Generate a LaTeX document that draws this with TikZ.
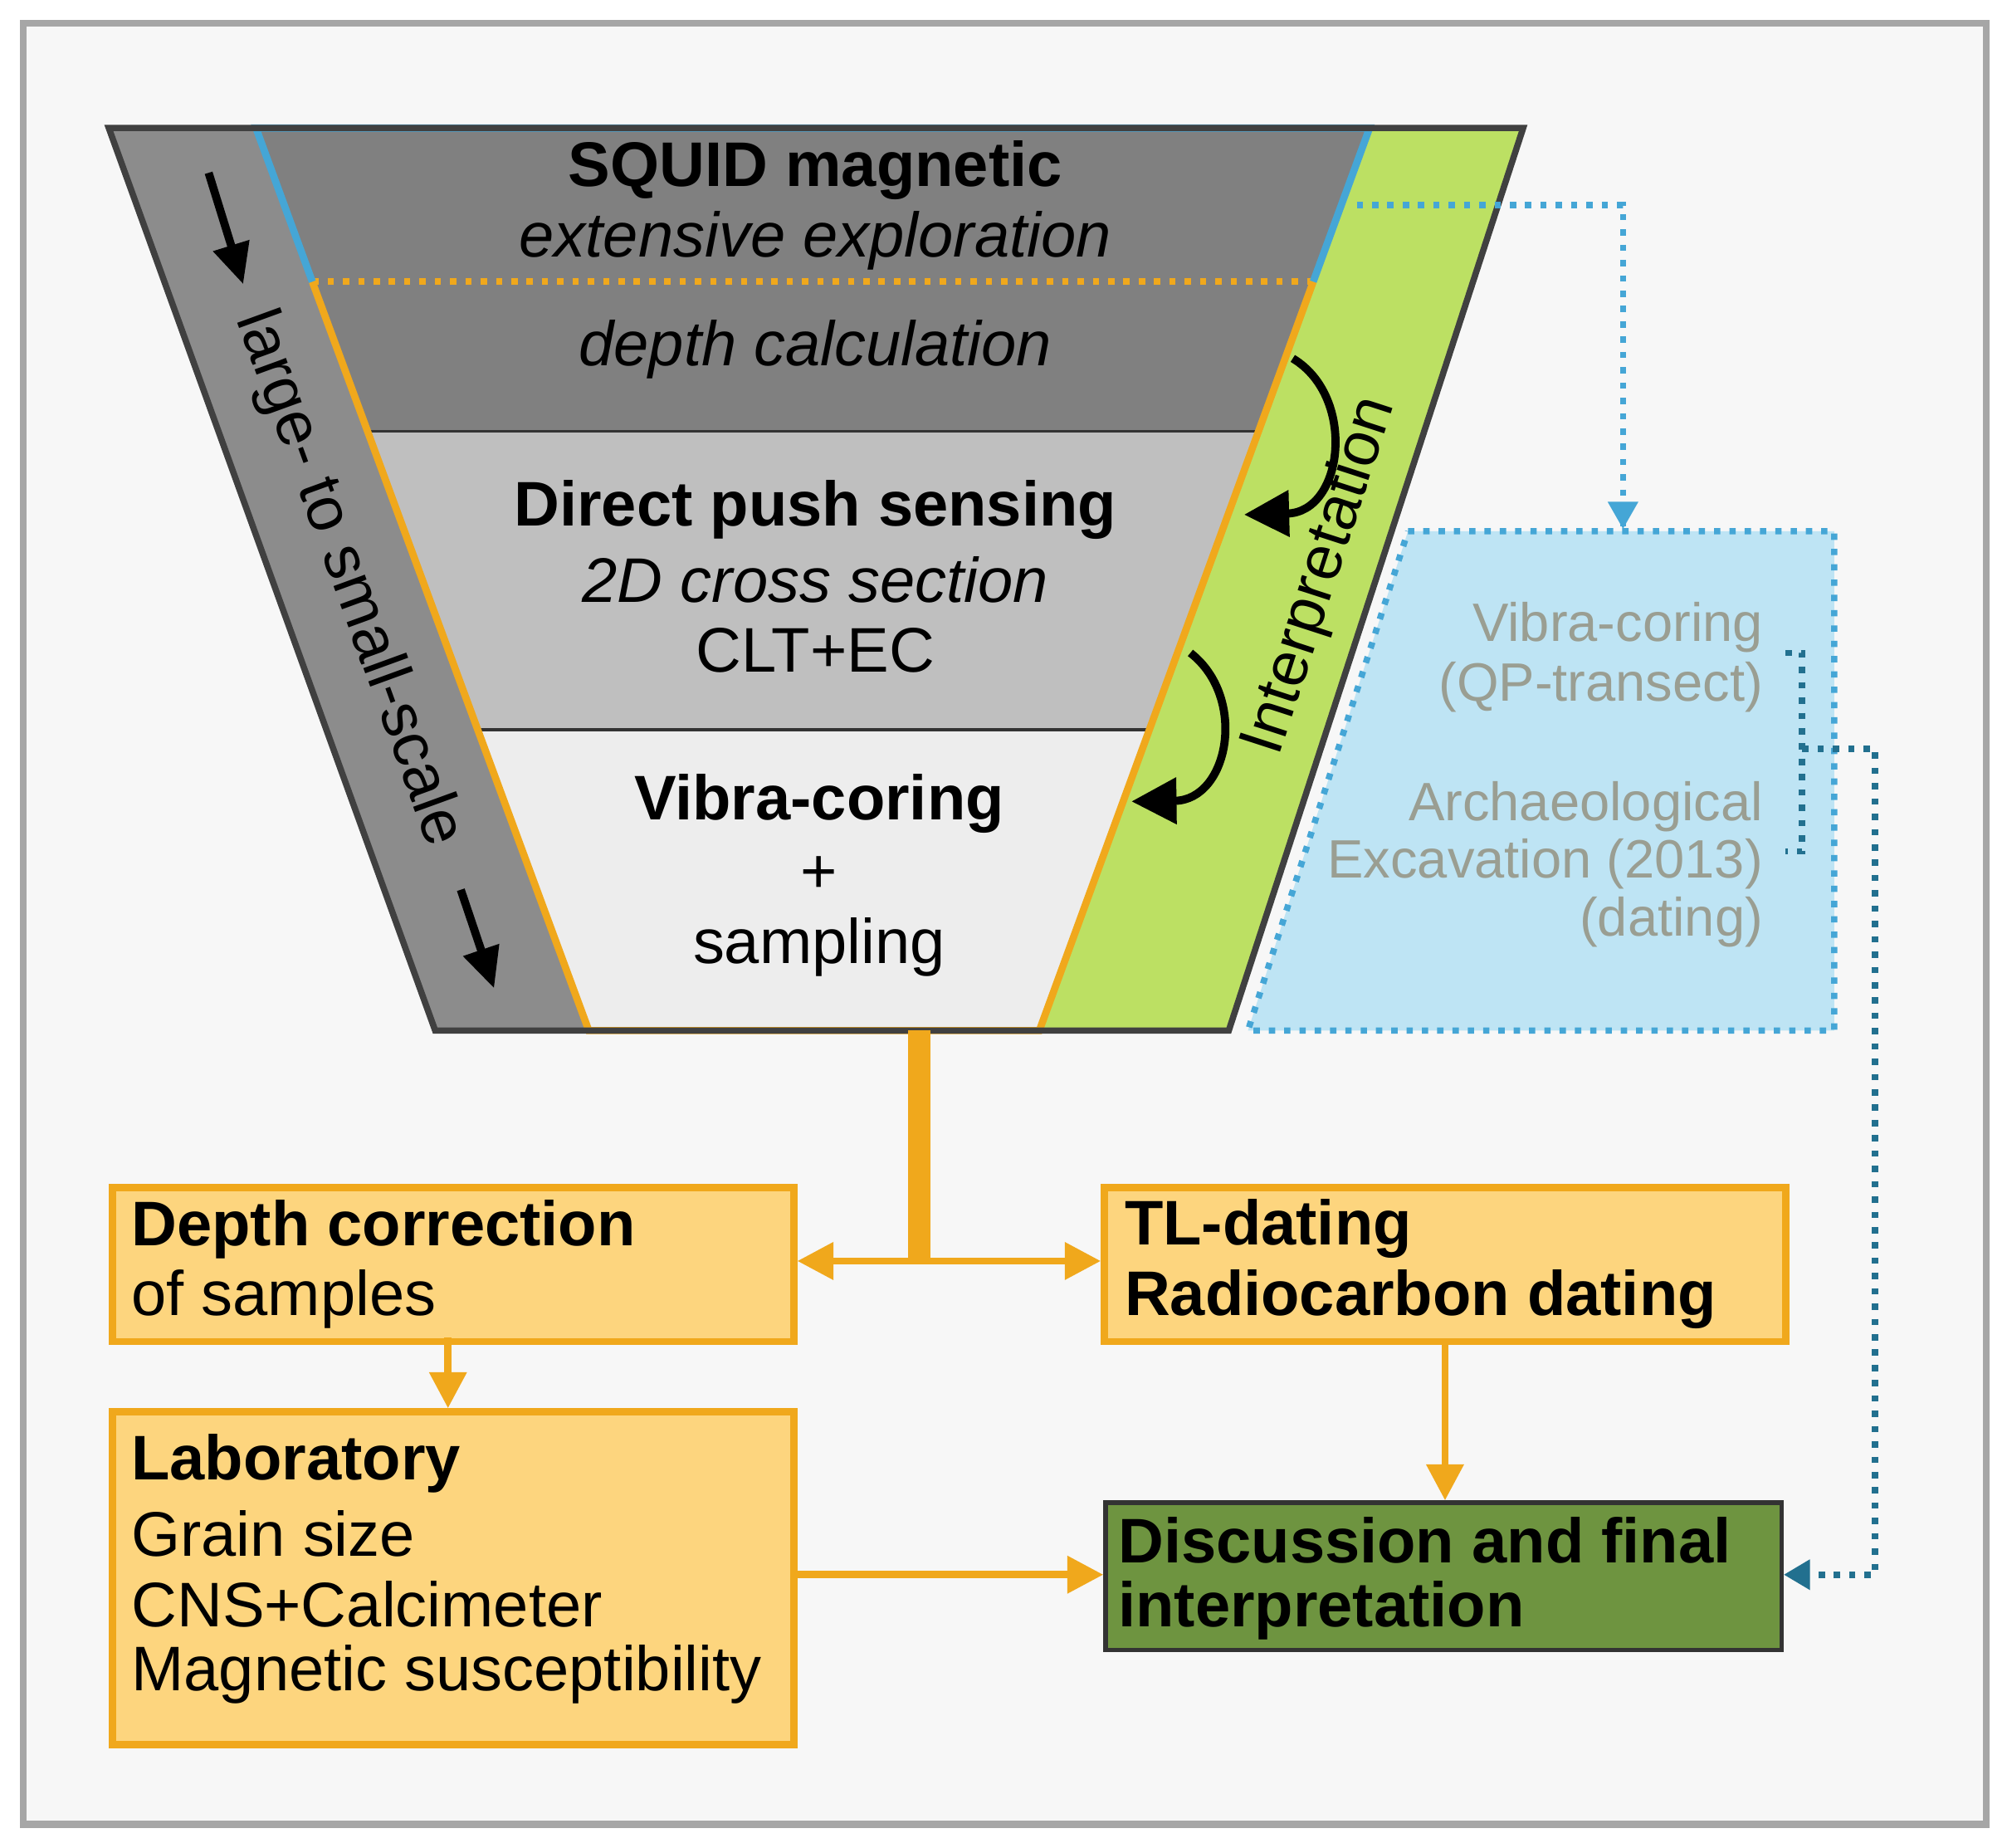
\documentclass[tikz,border=0pt]{standalone}
\usepackage{fontspec}
\setmainfont{Liberation Sans}
\usetikzlibrary{arrows.meta}
\definecolor{org}{HTML}{F0A81C}
\definecolor{boxf}{HTML}{FDD57E}
\definecolor{grn}{HTML}{BCE063}
\definecolor{dgrn}{HTML}{6E9440}
\definecolor{lblue}{HTML}{BEE4F4}
\definecolor{mblue}{HTML}{45A6D6}
\definecolor{dblue}{HTML}{22708F}
\definecolor{gtxt}{HTML}{9A9E92}
\tikzset{
 box/.style={draw=org,line width=1.6pt,fill=boxf,anchor=north west,inner sep=0pt},
 txt/.style={font=\fontsize{14}{16}\selectfont,inner sep=0pt},
 btxt/.style={txt,font=\fontsize{14}{16}\selectfont\bfseries},
 itxt/.style={txt,font=\fontsize{14}{16}\selectfont\itshape},
 stxt/.style={font=\fontsize{12}{14}\selectfont,text=gtxt,anchor=east,inner sep=0pt},
 oarr/.style={org,line width=1.6pt,-{Triangle[length=8pt,width=8pt]}},
 bdot/.style={mblue,line width=1.4pt,dotted},
}
\begin{document}
\begin{tikzpicture}[x=0.01cm,y=-0.01cm]
\fill[white] (0,0) rectangle (1568,1443);
\useasboundingbox (0,0) rectangle (1568,1443);
\draw[gray!70,line width=1.5pt,fill=black!3] (18,18) rectangle (1552,1425);
% outer gray strip
\fill[black!45] (85,100) -- (200,100) -- (460,805) -- (340,805) -- cycle;
% green strip
\fill[grn] (1070,100) -- (1190,100) -- (960,805) -- (812,805) -- cycle;
% bands
\fill[black!50] (200,100) -- (1070,100) -- (983,337) -- (287,337) -- cycle;
\fill[black!25] (287,337) -- (983,337) -- (898,570) -- (373,570) -- cycle;
\fill[black!7] (373,570) -- (898,570) -- (812,805) -- (460,805) -- cycle;
\draw[black!80,line width=0.6pt] (287,337) -- (983,337) (373,570) -- (898,570);
\draw[org,line width=1.4pt,dotted] (244,220) -- (1026,220);
\draw[org,line width=1.6pt] (244,220) -- (460,805) -- (812,805) -- (1026,220);
\draw[mblue,line width=1.6pt] (244,220) -- (200,100) -- (1070,100) -- (1026,220);
\draw[black!75,line width=1.4pt] (85,100) -- (1190,100) -- (960,805) -- (340,805) -- cycle;
% funnel texts
\node[btxt] (t1) at (637,133) {SQUID magnetic};
\node[itxt] (t2) at (637,188) {extensive exploration};
\node[itxt] (t3) at (637,273) {depth calculation};
\node[btxt] (t4) at (637,398) {Direct push sensing};
\node[itxt] (t5) at (637,453) {2D cross section};
\node[txt] (t6) at (637,508) {CLT+EC};
\node[btxt] (t7) at (640,628) {Vibra-coring};
\node[txt] (t8) at (640,683) {+};
\node[txt] (t9) at (640,740) {sampling};
\node[txt,rotate=-70] (ls) at (272,452) {large- to small-scale};
\node[txt,rotate=72] (ip) at (1032,450) {Interpretation};
% left arrows
\coordinate (a1) at (163,135); \coordinate (a2) at (190,222);
\coordinate (a3) at (360,695); \coordinate (a4) at (386,772);
\draw[line width=1.8pt,-{Triangle[length=9pt,width=8pt]}] (a1) -- (a2);
\draw[line width=1.8pt,-{Triangle[length=9pt,width=8pt]}] (a3) -- (a4);
% curved arrows
\coordinate (c1) at (1010,280); \coordinate (c2) at (972,402);
\coordinate (c3) at (930,510); \coordinate (c4) at (884,626);
\draw[line width=1.8pt,-{Triangle[length=10pt,width=10pt]}] (c1) .. controls (1060,310) and (1050,400) .. (c2);
\draw[line width=1.8pt,-{Triangle[length=10pt,width=10pt]}] (c3) .. controls (975,545) and (960,625) .. (c4);
% blue box
\fill[lblue] (1100,415) -- (1433,415) -- (1433,805) -- (975,805) -- cycle;
\draw[bdot] (1100,415) -- (1433,415) -- (1433,805) -- (975,805) -- cycle;
\node[stxt] (v1) at (1378,490) {Vibra-coring};
\node[stxt] (v2) at (1378,537) {(QP-transect)};
\node[stxt] (v3) at (1378,630) {Archaeological};
\node[stxt] (v4) at (1378,675) {Excavation (2013)};
\node[stxt] (v5) at (1378,720) {(dating)};
% top dotted arrow
\coordinate (d1) at (1060,160); \coordinate (d2) at (1268,160); \coordinate (d3) at (1268,413);
\draw[bdot] (d1) -- (d2) -- (d3);
\fill[mblue] (1268,413) -- (1256,392) -- (1280,392) -- cycle;
% boxes
\node[box,minimum width=5.32cm,minimum height=1.2cm] (b1) at (85,925) {};
\node[box,minimum width=5.32cm,minimum height=1.2cm] (b2) at (860,925) {};
\node[box,minimum width=5.32cm,minimum height=2.6cm] (b3) at (85,1100) {};
\node[draw=black!80,line width=1pt,fill=dgrn,anchor=north west,minimum width=5.28cm,minimum height=1.15cm,inner sep=0pt] (b4) at (862,1172) {};
\node[btxt,anchor=west] at (102,960) {Depth correction};
\node[txt,anchor=west] at (102,1015) {of samples};
\node[btxt,anchor=west] at (878,960) {TL-dating};
\node[btxt,anchor=west] at (878,1015) {Radiocarbon dating};
\node[btxt,anchor=west] at (102,1143) {Laboratory};
\node[txt,anchor=west] at (102,1198) {Grain size};
\node[txt,anchor=west] at (102,1253) {CNS+Calcimeter};
\node[txt,anchor=west] at (102,1308) {Magnetic susceptibility};
\node[btxt,anchor=west] at (873,1203) {Discussion and final};
\node[btxt,anchor=west] at (873,1258) {interpretation};
% orange connectors
\coordinate (f1) at (718,805); \coordinate (f2) at (718,985);
\draw[org,line width=5pt] (f1) -- (718,987);
\draw[oarr] (f2) -- (b1.east |- f2);
\draw[oarr] (f2) -- (b2.west |- f2);
\draw[oarr] (350,1045) -- (b3.north -| 350,0);
\draw[oarr] (b2.south) -- (b4.north -| b2.south);
\draw[oarr] (b3.east |- 0,1230) -- (b4.west |- 0,1230);
% brace and dotted connection
\draw[dblue,line width=1.4pt,dotted] (1395,510) -- (1408,510) -- (1408,665) -- (1395,665)
  (1408,585) -- (1465,585) -- (1465,1230) -- (1410,1230);
\fill[dblue] (b4.east |- 0,1230) -- (1414,1218) -- (1414,1242) -- cycle;
\end{tikzpicture}
\end{document}
